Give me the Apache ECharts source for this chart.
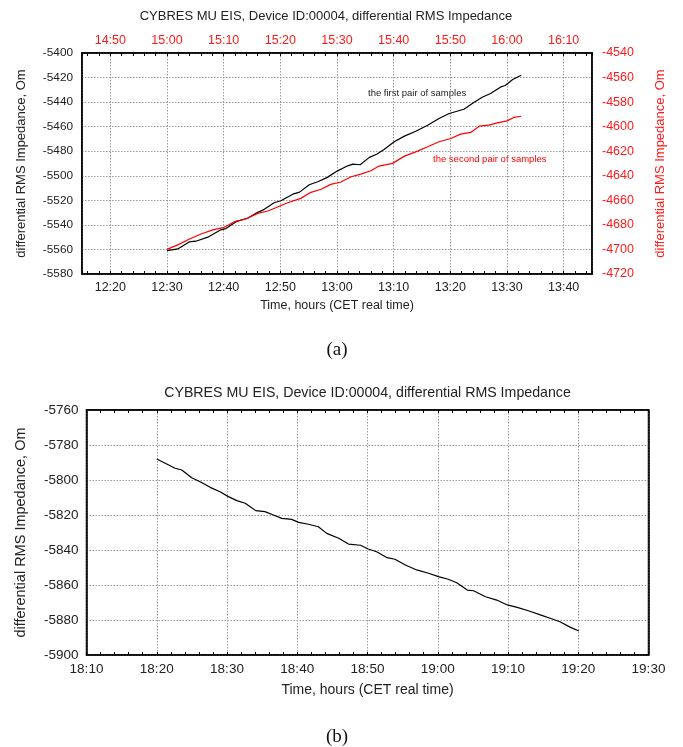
<!DOCTYPE html>
<html>
<head>
<meta charset="utf-8">
<title>CYBRES MU EIS differential RMS Impedance</title>
<script src="https://cdn.jsdelivr.net/npm/echarts@6/dist/echarts.min.js"></script>
<style>
  html, body { margin: 0; padding: 0; background: #fff; }
  #chart { width: 683px; height: 747px; }
</style>
</head>
<body>
<div id="chart"></div>
<script>
// ---- Panel (a): two pairs of samples, 62.5 minutes of recording ----
// first pair: minutes after 12:30 and impedance (left axis, Om)
const pairOneStart = '12:30';
const pairOneMinutes = [0, 1.9, 3.9, 5.1, 7.2, 9.5, 10.4, 12.2, 14.2, 16.0, 16.9, 18.9, 20.1, 22.2, 23.4,
  25.1, 26.6, 28.3, 30.1, 31.9, 32.8, 34.1, 35.7, 37.0, 38.3, 40.1, 41.9, 43.9, 46.0, 48.0,
  49.8, 52.4, 54.2, 55.7, 57.1, 58.9, 59.7, 61.0, 62.5];
const pairOneOhm = [-5561, -5559.6, -5553.9, -5553.3, -5550, -5544, -5543, -5537.4, -5534.6, -5529.8,
  -5528, -5522, -5520.3, -5515, -5513.3, -5507.3, -5504.9, -5501.3, -5496, -5491.9, -5490.5,
  -5491, -5485, -5482.5, -5478.6, -5472.3, -5467.7, -5463.7, -5458.8, -5453.4, -5449.3,
  -5445.8, -5440.1, -5435.8, -5433, -5427.6, -5426.5, -5421.6, -5418.1];

// second pair: minutes after 15:00 and impedance (right axis, Om)
const pairTwoStart = '15:00';
const pairTwoMinutes = [0, 1.9, 3.9, 6.0, 8.1, 10.1, 11.9, 13.9, 16.0, 17.8, 19.6, 21.3, 23.6, 25.4,
  27.2, 28.9, 30.7, 32.5, 34.2, 36.0, 37.4, 39.8, 41.9, 43.9, 46.0, 48.0, 50.1, 51.8, 53.6,
  55.1, 56.8, 58.3, 60.0, 61.2, 62.5];
const pairTwoOhm = [-4699.9, -4696.3, -4691.7, -4687.4, -4684.1, -4682, -4677.4, -4675.2, -4670.6,
  -4668.7, -4665.2, -4662, -4658.4, -4653.5, -4651, -4647, -4645.1, -4640.8, -4638.6, -4635.9,
  -4632.1, -4629.9, -4624, -4620.5, -4616.4, -4612.3, -4609.6, -4606.1, -4604.7, -4599.6,
  -4598.8, -4596.9, -4595.3, -4592.5, -4591.5];

// ---- Panel (b): single recording from 18:20 ----
const singleStart = '18:20';
const singleMinutes = [0, 1.42, 2.6, 3.56, 4.98, 6.17, 7.6, 9.0, 10.2, 11.4, 12.6, 13.3, 14.1, 15.4,
  16.6, 17.8, 19.2, 20.2, 21.6, 23.0, 24.2, 25.9, 27.3, 29.0, 30.1, 31.3, 32.8, 33.9, 35.4,
  37.0, 38.7, 40.1, 41.5, 42.7, 44.2, 45.1, 46.8, 48.4, 49.9, 51.3, 52.9, 54.6, 56.3, 57.4,
  58.9, 60.1];
const singleOhm = [-5788, -5790.9, -5793.3, -5794.3, -5798.7, -5801, -5804.2, -5806.7, -5809.5,
  -5811.8, -5813.3, -5815.3, -5817.5, -5818.1, -5820, -5821.9, -5822.5, -5824.2, -5825.3,
  -5826.7, -5830.5, -5833.3, -5836.6, -5837.3, -5839.4, -5841, -5844.4, -5845.3, -5848.6,
  -5851.4, -5853.3, -5855.2, -5856.7, -5858.7, -5862.9, -5863.3, -5866.7, -5868.6, -5871.4,
  -5872.8, -5874.7, -5877.1, -5879.4, -5881, -5884.2, -5886.3];

// axis windows (clock time) and value ranges
const panelATimeRange = ['12:15', '13:45'];
const panelATopTimeRange = ['14:45', '16:15'];
const panelALeftRange = [-5580, -5400];
const panelARightRange = [-4720, -4540];
const panelBTimeRange = ['18:10', '19:30'];
const panelBRange = [-5900, -5760];

const titleText = 'CYBRES MU EIS, Device ID:00004, differential RMS Impedance';
const timeAxisName = 'Time, hours (CET real time)';
const valueAxisName = 'differential RMS Impedance, Om';
const noteFirst = 'the first pair of samples';
const noteSecond = 'the second pair of samples';

const toMin = s => { const p = s.split(':'); return (+p[0]) * 60 + (+p[1]); };
const clock = v => {
  const r = Math.round(v);
  const h = Math.floor(r / 60), m = r % 60;
  return h + ':' + (m < 10 ? '0' : '') + m;
};
const tenMinuteLabel = v => (Math.round(v) % 10 === 0 ? clock(v) : '');
const plainNumber = v => String(v);
const pairs = (start, mins, vals) => mins.map((m, i) => [toMin(start) + m, vals[i]]);

const FONT = "'Liberation Sans', Arial, sans-serif";
const RED = '#ff1a1a';
const dotted = { show: true, lineStyle: { color: '#9a9a9a', type: [1.5, 1.5], width: 1 } };

function timeAxis(gridIndex, pos, range, opts) {
  return Object.assign({
    type: 'value', gridIndex: gridIndex, position: pos,
    min: toMin(range[0]), max: toMin(range[1]),
    axisLine: { show: true, onZero: false, lineStyle: { color: '#000', width: 1.5 } },
    axisTick: { show: true, inside: true, length: 3, lineStyle: { color: '#000', width: 1 } },
    minorTick: { show: true, splitNumber: 5, length: 3, lineStyle: { color: '#000', width: 1 } },
    splitLine: { show: false },
    axisLabel: { show: false }
  }, opts);
}

function valueAxis(gridIndex, pos, range, opts) {
  return Object.assign({
    type: 'value', gridIndex: gridIndex, position: pos,
    min: range[0], max: range[1], interval: 20,
    axisLine: { show: true, onZero: false, lineStyle: { color: '#000', width: 1.5 } },
    axisTick: { show: false },
    splitLine: { show: false },
    axisLabel: { show: false }
  }, opts);
}

const chart = echarts.init(document.getElementById('chart'), null, { renderer: 'canvas' });

chart.setOption({
  animation: false,
  backgroundColor: '#fff',
  grid: [
    { left: 82, top: 53, width: 510, height: 221, show: true, borderColor: '#000', borderWidth: 1.5 },
    { left: 86.5, top: 410, width: 562, height: 245, show: true, borderColor: '#000', borderWidth: 1.5 }
  ],
  xAxis: [
    // panel (a), bottom: clock time of the first pair
    timeAxis(0, 'bottom', panelATimeRange, {
      splitNumber: 9,
      splitLine: dotted,
      axisLabel: { show: true, formatter: tenMinuteLabel, color: '#222', fontSize: 12.5,
        fontFamily: FONT, margin: 7, hideOverlap: false },
      name: timeAxisName, nameLocation: 'middle', nameGap: 25,
      nameTextStyle: { color: '#222', fontSize: 12.5, fontFamily: FONT }
    }),
    // panel (a), top: clock time of the second pair
    timeAxis(0, 'top', panelATopTimeRange, {
      splitNumber: 9,
      axisLabel: { show: true, formatter: tenMinuteLabel, color: RED, fontSize: 12.5,
        fontFamily: FONT, margin: 6, hideOverlap: false }
    }),
    // panel (b)
    timeAxis(1, 'bottom', panelBTimeRange, {
      interval: 10,
      splitLine: dotted,
      axisLabel: { show: true, formatter: clock, color: '#222', fontSize: 13.5,
        fontFamily: FONT, margin: 7, hideOverlap: false },
      name: timeAxisName, nameLocation: 'middle', nameGap: 28,
      nameTextStyle: { color: '#222', fontSize: 14, fontFamily: FONT }
    }),
    timeAxis(1, 'top', panelBTimeRange, { interval: 10 })
  ],
  yAxis: [
    valueAxis(0, 'left', panelALeftRange, {
      splitLine: dotted,
      axisLabel: { show: true, formatter: plainNumber, color: '#222', fontSize: 11.8,
        fontFamily: FONT, margin: 9 },
      name: valueAxisName, nameLocation: 'middle', nameGap: 54, nameRotate: 90,
      nameTextStyle: { color: '#222', fontSize: 13, fontFamily: FONT }
    }),
    valueAxis(0, 'right', panelARightRange, {
      axisLabel: { show: true, formatter: plainNumber, color: RED, fontSize: 12.5,
        fontFamily: FONT, margin: 10 },
      name: valueAxisName, nameLocation: 'middle', nameGap: 62, nameRotate: 90,
      nameTextStyle: { color: RED, fontSize: 13, fontFamily: FONT }
    }),
    valueAxis(1, 'left', panelBRange, {
      splitLine: dotted,
      axisLabel: { show: true, formatter: plainNumber, color: '#222', fontSize: 13.5,
        fontFamily: FONT, margin: 8 },
      name: valueAxisName, nameLocation: 'middle', nameGap: 58, nameRotate: 90,
      nameTextStyle: { color: '#222', fontSize: 14.5, fontFamily: FONT }
    }),
    valueAxis(1, 'right', panelBRange, {})
  ],
  series: [
    {
      name: noteFirst, type: 'line', xAxisIndex: 0, yAxisIndex: 0,
      data: pairs(pairOneStart, pairOneMinutes, pairOneOhm),
      showSymbol: false, symbol: 'none', smooth: false,
      lineStyle: { color: '#000', width: 1.2 }, z: 3
    },
    {
      name: noteSecond, type: 'line', xAxisIndex: 1, yAxisIndex: 1,
      data: pairs(pairTwoStart, pairTwoMinutes, pairTwoOhm),
      showSymbol: false, symbol: 'none', smooth: false,
      lineStyle: { color: '#ff0000', width: 1.2 }, z: 3
    },
    {
      name: 'single', type: 'line', xAxisIndex: 2, yAxisIndex: 2,
      data: pairs(singleStart, singleMinutes, singleOhm),
      showSymbol: false, symbol: 'none', smooth: false,
      lineStyle: { color: '#000', width: 1.2 }, z: 3
    }
  ],
  graphic: [
    { type: 'text', style: { x: 326, y: 16, text: titleText, fill: '#222',
      font: '13px ' + FONT, textAlign: 'center', textVerticalAlign: 'middle' } },
    { type: 'text', style: { x: 367.5, y: 393, text: titleText, fill: '#222',
      font: '14.2px ' + FONT, textAlign: 'center', textVerticalAlign: 'middle' } },
    { type: 'text', style: { x: 368, y: 93, text: noteFirst, fill: '#222',
      font: '9.5px ' + FONT, textAlign: 'left', textVerticalAlign: 'middle' } },
    { type: 'text', style: { x: 433, y: 159, text: noteSecond, fill: '#ff0000',
      font: '9.5px ' + FONT, textAlign: 'left', textVerticalAlign: 'middle' } },
    { type: 'text', style: { x: 337, y: 350, text: '(a)', fill: '#111',
      font: "19px 'Liberation Serif', 'DejaVu Serif', serif", textAlign: 'center', textVerticalAlign: 'middle' } },
    { type: 'text', style: { x: 337, y: 737, text: '(b)', fill: '#111',
      font: "19px 'Liberation Serif', 'DejaVu Serif', serif", textAlign: 'center', textVerticalAlign: 'middle' } }
  ]
});
</script>
</body>
</html>
